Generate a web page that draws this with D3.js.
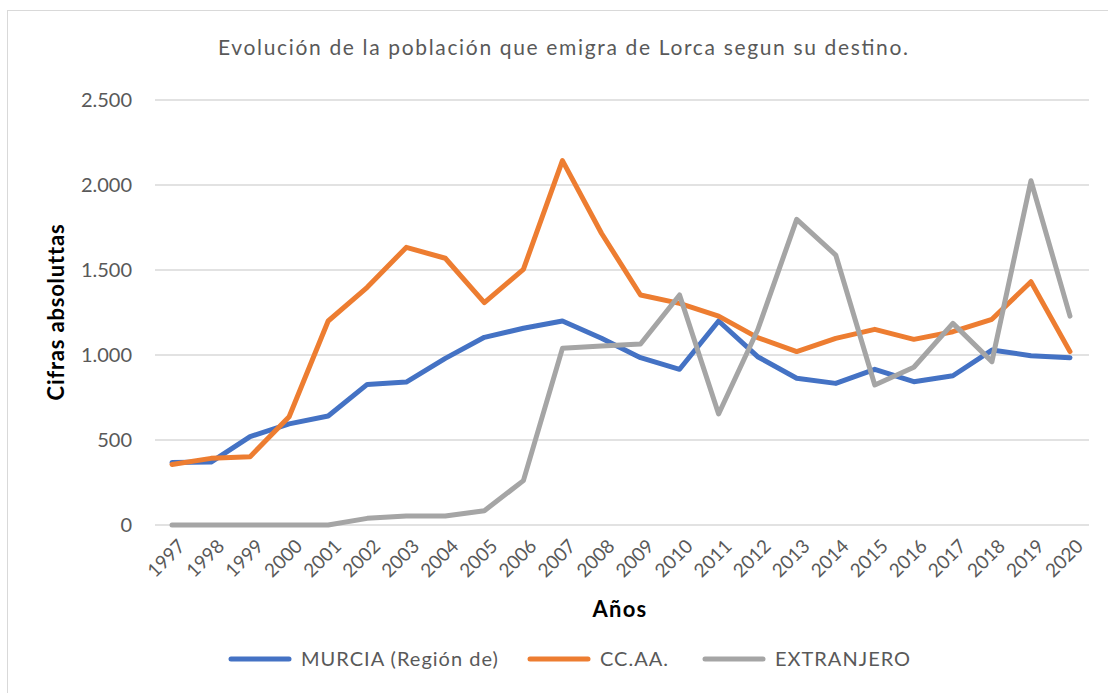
<!DOCTYPE html>
<html>
<head>
<meta charset="utf-8">
<script src="https://cdn.jsdelivr.net/npm/d3@7"></script>
<style>
  body { margin: 0; background: #fff; }
  text { font-family: Lato, "Open Sans", sans-serif; }
</style>
</head>
<body>
<div id="chart"></div>
<script>
// data
const years = ["1997","1998","1999","2000","2001","2002","2003","2004","2005","2006","2007","2008",
               "2009","2010","2011","2012","2013","2014","2015","2016","2017","2018","2019","2020"]
const murcia = [368, 370, 520, 595, 641, 827, 841, 980, 1104, 1157, 1200, 1098,
                984, 916, 1200, 990, 863, 833, 916, 843, 878, 1029, 996, 984]
const ccaa = [356, 392, 402, 637, 1200, 1398, 1633, 1569, 1308, 1504, 2143, 1716,
              1353, 1304, 1229, 1102, 1020, 1098, 1151, 1092, 1137, 1210, 1431, 1020]
const extranjero = [0, 0, 0, 0, 0, 39, 53, 53, 84, 261, 1039, 1053,
                    1065, 1353, 653, 1147, 1798, 1588, 824, 928, 1186, 961, 2025, 1229]
const seriesNames = ["MURCIA (Región de)", "CC.AA.", "EXTRANJERO"]
const seriesColors = ["#4472C4", "#ED7D31", "#A5A5A5"]
const yTicks = [0, 500, 1000, 1500, 2000, 2500]

const W = 1108, H = 693

let svg = d3.select("#chart")
    .append("svg")
    .attr("width", W)
    .attr("height", H)

// chart frame (only top/left edges show)
svg.append("rect")
    .attr("x", 7.5).attr("y", 10.5)
    .attr("width", W + 20).attr("height", H + 20)
    .attr("fill", "#fff")
    .attr("stroke", "#d9d9d9")

// scales
let x = d3.scalePoint()
    .domain(years)
    .range([172, 1070])

let y = d3.scaleLinear()
    .domain([0, 2500])
    .range([525, 100])

const fmt = d => d3.format(",")(d).replace(/,/g, ".")

// gridlines
svg.append("g")
    .selectAll("line")
    .data(yTicks)
    .enter().append("line")
    .attr("x1", 155).attr("x2", 1089)
    .attr("y1", d => y(d)).attr("y2", d => y(d))
    .attr("stroke", "#d9d9d9")
    .attr("stroke-width", 1.3)

// y tick labels
svg.append("g")
    .selectAll("text")
    .data(yTicks)
    .enter().append("text")
    .attr("x", 132)
    .attr("y", d => y(d))
    .attr("dy", "0.35em")
    .attr("text-anchor", "end")
    .attr("fill", "#595959")
    .style("font-size", "20px")
    .text(fmt)

// x tick labels, rotated
svg.append("g")
    .selectAll("text")
    .data(years)
    .enter().append("text")
    .attr("transform", d => `translate(${x(d) + 5}, ${538}) rotate(-45)`)
    .attr("text-anchor", "end")
    .attr("dy", "0.7em")
    .attr("fill", "#595959")
    .style("font-size", "19px")
    .text(d => d)

// lines
let line = d3.line()
    .x((d, i) => x(years[i]))
    .y(d => y(d))

const allSeries = [murcia, ccaa, extranjero]

svg.append("g")
    .selectAll("path")
    .data(allSeries)
    .enter().append("path")
    .attr("d", line)
    .attr("fill", "none")
    .attr("stroke", (d, i) => seriesColors[i])
    .attr("stroke-width", 5)
    .attr("stroke-linejoin", "round")
    .attr("stroke-linecap", "round")

// title
svg.append("text")
    .attr("x", 563)
    .attr("y", 55)
    .attr("text-anchor", "middle")
    .attr("fill", "#595959")
    .attr("textLength", 690)
    .attr("lengthAdjust", "spacing")
    .style("font-size", "21px")
    .text("Evolución de la población que emigra de Lorca segun su destino.")

// axis titles
svg.append("text")
    .attr("transform", "translate(64, 312) rotate(-90)")
    .attr("text-anchor", "middle")
    .attr("fill", "#000")
    .style("font-size", "22px")
    .style("font-weight", "bold")
    .style("letter-spacing", "0.8px")
    .text("Cifras absoluttas")

svg.append("text")
    .attr("x", 620)
    .attr("y", 617)
    .attr("text-anchor", "middle")
    .attr("fill", "#000")
    .style("font-size", "22px")
    .style("font-weight", "bold")
    .style("letter-spacing", "1.2px")
    .text("Años")

// legend
const legendX = [231, 530, 705]
let legend = svg.append("g")
    .selectAll("g")
    .data(seriesNames)
    .enter().append("g")
    .attr("transform", (d, i) => `translate(${legendX[i]}, 659)`)

legend.append("line")
    .attr("x1", 0).attr("x2", 58)
    .attr("stroke", (d, i) => seriesColors[i])
    .attr("stroke-width", 5)
    .attr("stroke-linecap", "round")

legend.append("text")
    .attr("x", 70)
    .attr("dy", "0.35em")
    .attr("fill", "#595959")
    .style("font-size", "20px")
    .style("letter-spacing", "1px")
    .text(d => d)
</script>
</body>
</html>
